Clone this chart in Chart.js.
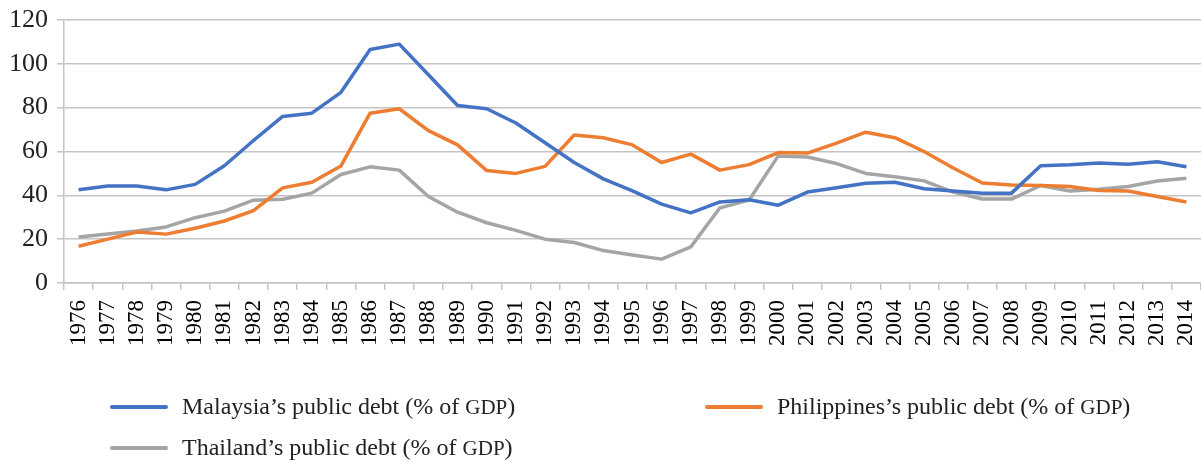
<!DOCTYPE html>
<html>
<head>
<meta charset="utf-8">
<script src="https://cdn.jsdelivr.net/npm/chart.js@4.4.1/dist/chart.umd.min.js"></script>
<style>
    body { margin: 0; background: #fff; }
    #wrap { position: relative; width: 1201px; height: 472px; }
    .leg { position: absolute; font-family: 'Liberation Serif', serif; font-size: 24px; color: #222; line-height: 28px; white-space: nowrap; }
    .leg .sw { position: absolute; width: 58px; height: 4px; border-radius: 2px; }
    .leg .small { font-size: 21px; }
</style>
</head>
<body>
<div id="wrap">
    <canvas id="debt" width="1201" height="472"></canvas>
</div>
<script>
const years = [];
for (let y = 1976; y <= 2014; y++) years.push(String(y));

const yTicks = [0, 20, 40, 60, 80, 100, 120];

const malaysia = [42.5, 44.3, 44.3, 42.5, 45, 53.5, 65, 76, 77.5, 87, 106.5, 109, 95, 81, 79.5, 73, 64, 55,
    47.5, 42, 36, 32, 37, 38, 35.5, 41.5, 43.5, 45.5, 46, 43, 42, 41, 41, 53.5, 54, 54.8, 54.2, 55.3, 53];
const philippines = [16.8, 20, 23.3, 22.3, 25, 28.3, 33, 43.4, 46, 53.4, 77.5, 79.5, 69.5, 63, 51.3, 50, 53.2, 67.5,
    66.3, 63, 55, 58.8, 51.5, 54, 59.5, 59.3, 63.8, 68.8, 66.3, 60, 52.5, 45.6, 44.7, 44.5, 44, 42.2, 42, 39.5, 37];
const thailand = [21, 22.4, 23.7, 25.6, 29.8, 32.8, 37.8, 38.2, 41, 49.5, 53, 51.5, 39.5, 32.3, 27.5, 24, 20, 18.5,
    14.8, 12.8, 10.9, 16.5, 34.3, 37.9, 58, 57.5, 54.5, 50, 48.5, 46.6, 41.5, 38.3, 38.3, 44.5, 42, 42.8, 44, 46.5, 47.8];

const seriesNames = [
    "Malaysia\u2019s public debt (% of GDP)",
    "Philippines\u2019s public debt (% of GDP)",
    "Thailand\u2019s public debt (% of GDP)"
];
const colors = ['#4472C4', '#ED7D31', '#A5A5A5'];

// legend spots (left of swatch, middle of row)
const legendPos = [[110, 406], [705, 406], [110, 447]];

const gridCol = '#c4c4c4';

function makeSet(i, values) {
    return {
        label: seriesNames[i],
        data: values,
        borderColor: colors[i],
        backgroundColor: colors[i],
        borderWidth: 3.5,
        pointRadius: 0,
        tension: 0,
        borderJoinStyle: 'round'
    };
}

const data = {
    labels: years,
    datasets: [makeSet(0, malaysia), makeSet(1, philippines), makeSet(2, thailand)]
};

const config = {
    type: 'line',
    data: data,
    options: {
        responsive: false,
        animation: false,
        layout: { padding: { left: 0, top: 0, right: 0, bottom: 116 } },
        plugins: {
            legend: { display: false },
            tooltip: { enabled: false }
        },
        scales: {
            x: {
                offset: true,
                afterFit: function (s) { s.paddingLeft = 0; s.paddingRight = 0; },
                grid: { drawOnChartArea: false, offset: true, tickLength: 7, color: gridCol, lineWidth: 1.5 },
                border: { color: gridCol, width: 1.5 },
                ticks: {
                    autoSkip: false,
                    maxRotation: 90,
                    minRotation: 90,
                    padding: 10,
                    color: '#000',
                    font: { family: 'Liberation Serif', size: 23 }
                }
            },
            y: {
                min: 0,
                max: 120,
                afterBuildTicks: function (axis) {
                    axis.ticks = yTicks.map(v => ({ value: v }));
                },
                afterFit: function (s) { s.paddingTop = 20; s.paddingBottom = 0; },
                grid: { tickLength: 7, color: gridCol, lineWidth: 1.5 },
                border: { color: gridCol, width: 1.5 },
                ticks: {
                    padding: 9,
                    color: '#222',
                    font: { family: 'Liberation Serif', size: 26 }
                }
            }
        }
    }
};

const chart = new Chart(document.getElementById('debt'), config);

// html legend in the layout of the original
const wrap = document.getElementById('wrap');
chart.data.datasets.forEach(function (ds, i) {
    const p = legendPos[i];
    const item = document.createElement('div');
    item.className = 'leg';
    item.style.left = p[0] + 'px';
    item.style.top = (p[1] - 14) + 'px';
    const sw = document.createElement('span');
    sw.className = 'sw';
    sw.style.background = ds.borderColor;
    sw.style.left = '0px';
    sw.style.top = '13px';
    item.appendChild(sw);
    const txt = document.createElement('span');
    txt.style.marginLeft = '72px';
    txt.innerHTML = ds.label.replace('GDP', '<span class="small">GDP</span>');
    item.appendChild(txt);
    wrap.appendChild(item);
});
</script>
</body>
</html>
